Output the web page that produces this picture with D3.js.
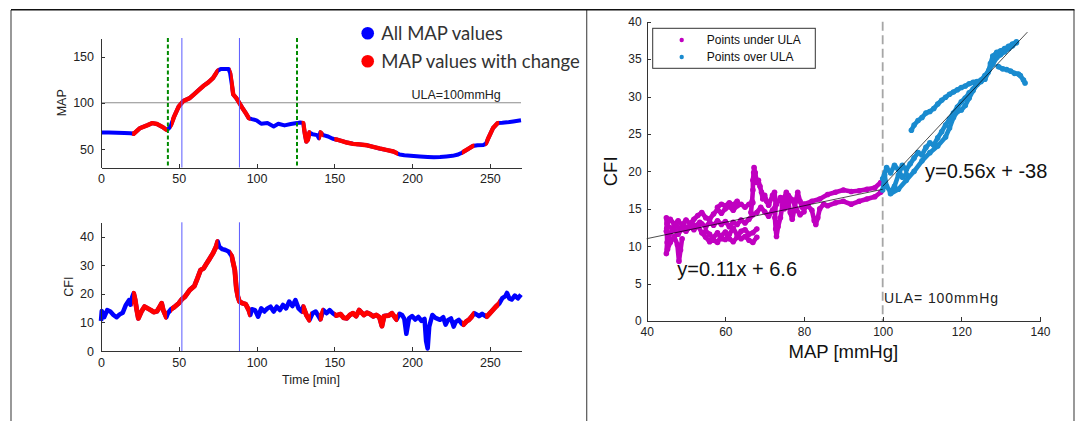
<!DOCTYPE html>
<html>
<head>
<meta charset="utf-8">
<script src="https://cdn.jsdelivr.net/npm/d3@7"></script>
<style>
  body { margin: 0; background: #fff; }
  svg { display: block; font-family: "Liberation Sans", Arial, sans-serif; }
  .axis path, .axis line { stroke: #333; shape-rendering: crispEdges; }
  .axis text { fill: #222; font-family: "Liberation Sans", Arial, sans-serif; }
</style>
</head>
<body>
<div id="chart"></div>
<script>
// ---- time series (left panels) ----
var mapTime = [0, 5, 10, 15, 19, 21, 25, 30, 33, 36, 40, 42, 43.5, 45, 47, 50, 53, 57, 60, 63, 66, 69, 72, 75, 77, 80, 82, 83, 84, 85, 87, 89, 91, 93, 95, 97, 100, 103, 107, 111, 114, 118, 122, 126, 128, 130, 131, 132, 133, 134, 136, 139, 140, 141, 143, 146, 149, 152, 155, 158, 162, 165, 168, 171, 175, 179, 184, 188, 192, 195, 199, 205, 210, 214, 218, 222, 226, 229, 232, 235, 239, 242, 246, 247.5, 249, 252, 255, 258, 261, 265, 270];
var mapValue = [67.8, 67.8, 67.6, 67.3, 67.0, 66.4, 72.5, 75.8, 78, 77, 73.3, 70.8, 72, 76, 85, 96, 102, 105, 109.4, 114, 118.4, 122, 126.7, 134.5, 136.5, 136.5, 136.5, 132, 121, 109, 105, 99.6, 94, 89, 83.4, 82.3, 81, 77.3, 78, 74.4, 77.3, 75.5, 77, 78, 78.7, 78, 67, 58, 60, 68, 66, 65, 61.7, 68, 65, 63.5, 61, 60, 58.5, 57, 55.6, 55.2, 54.6, 54, 52.3, 50.6, 48.8, 47.3, 44, 43.2, 42.6, 41.9, 41.4, 41.1, 41.3, 41.9, 42.6, 43.7, 46, 49, 53.2, 54, 54.4, 56, 61.7, 72.6, 78, 78.3, 78.8, 79.8, 81];

var cfiTime = [0, 0.5, 1, 2, 4, 6, 8, 10, 12, 14, 16, 18, 19, 20, 21, 22, 23, 24, 26, 28, 30, 32, 34, 36, 38, 39, 40, 42, 43, 45, 47, 50, 52, 54, 57, 60, 62, 64, 66, 68, 70, 72, 74, 75, 76, 78, 80, 82, 84, 86, 87, 88, 89, 91, 93, 95, 96, 97, 99, 101, 103, 105, 107, 109, 111, 113, 115, 117, 119, 121, 123, 125, 127, 129, 130, 132, 134, 136, 138, 140, 141, 143, 145, 147, 149, 151, 154, 156, 158, 160, 162, 164, 166, 169, 171, 173, 175, 177, 179, 180.6, 182, 185, 187, 190, 192, 193.5, 195, 196.3, 198, 200, 202, 204, 206, 208, 209, 210, 211, 213, 215, 218, 220, 221.5, 223, 225, 226.7, 228, 230, 232, 233, 235, 236.5, 238, 240, 242, 243, 245, 246, 248, 250, 252, 254, 256, 258, 260, 261, 262.5, 264, 266, 268, 270];
var cfiValue = [10.5, 14, 13.2, 11.8, 14.3, 13.8, 12.6, 11.8, 12.8, 13.4, 16.1, 17.8, 16.2, 18.8, 20.2, 17.8, 14.3, 11.4, 13.8, 15.5, 14.9, 14.3, 13.6, 13.9, 15.7, 16.7, 14.3, 11.8, 13.2, 14.6, 15.3, 16.7, 18.1, 19, 21.3, 22.7, 25.4, 28.3, 28.9, 30.7, 32.4, 34.2, 36.5, 38.3, 36.5, 35.6, 35.3, 34.8, 33.2, 28.3, 21.9, 19, 17.3, 16.7, 16.4, 14.3, 12.6, 14.6, 14.3, 12.0, 14.9, 13.8, 14.9, 15.5, 13.8, 15.5, 14.3, 16.1, 14.9, 17.3, 15.7, 17.8, 14.9, 13.8, 15.5, 12.6, 10.8, 13.2, 13.8, 12.0, 11.1, 14.3, 13.2, 14.3, 13.2, 12.4, 12.9, 11.6, 11.4, 12.6, 13.2, 12.2, 14.3, 12.6, 13.4, 12.9, 12.1, 12.6, 11.8, 8.7, 12.2, 12.4, 13.2, 11.0, 13.0, 12.6, 11.2, 6.0, 11.4, 12.2, 11.0, 11.9, 10.5, 11.2, 3.5, 0.9, 8.5, 12.6, 11.6, 10.9, 11.8, 9.2, 10.8, 11.4, 8.5, 10.2, 10.9, 9.5, 9.2, 10.4, 10.9, 11.8, 13.2, 12.6, 12.2, 13.0, 12.6, 12.0, 13.2, 14.4, 15.6, 16.6, 18.5, 19.2, 20.3, 18.4, 18.0, 19.4, 18.4, 19.7];

// time ranges [min] flagged as "MAP values with change"
var changeRanges = [[20, 42.5], [45, 75.5], [83, 96], [129, 135], [140, 143], [150, 191], [232, 240], [247, 256]];
var greenMarks = [43, 126];
var blueMarks = [52, 89];
var ula = 100;

// ---- scatter (right panel): CFI vs MAP, as traced point runs ----
var underULA = [
  [[45.2, 13.0], [46, 13.6], [47, 12.9], [48, 13.4], [49, 12.8], [50, 13.5], [51, 13.0], [52, 13.6], [53, 14.1], [54, 14.5], [55, 13.8], [56, 13.6], [57, 14.3], [58, 14.9], [59, 14.4], [60, 15.0], [61, 15.3], [62, 14.8], [63, 15.4], [64, 15.6], [65, 15.2], [66, 15.6], [67, 15.8]],
  [[45.0, 12.0], [45.5, 11.0], [46, 11.8], [47, 12.2], [48, 11.6], [49, 12.3], [50, 12.0], [51, 12.6], [52, 12.2], [53, 12.8], [54, 11.8], [55, 11.2], [56, 10.6], [57, 11.2], [58, 11.8], [59, 11.0], [60, 10.9], [61, 11.6], [62, 12.4], [63, 11.5], [64, 11.0], [65, 11.3], [66, 10.8], [67, 10.5], [68, 11.2]],
  [[45.0, 13.8], [45.1, 12.4], [45.2, 10.5], [45.0, 9.0], [45.3, 9.6], [46, 10.5], [47, 11.3], [47.8, 10.2], [48.2, 8.0], [48.6, 9.5], [49, 11.0]],
  [[45.5, 12.6], [46.5, 12.4], [47.5, 12.8], [48.5, 12.2], [49.5, 12.7], [50.5, 12.4], [51.5, 13.1], [52.5, 12.7], [53.5, 13.2]],
  [[54, 13.0], [55, 12.6], [56, 13.2], [57, 12.8], [58, 13.4], [59, 12.9], [60, 13.3], [61, 12.6], [62, 13.2], [63, 12.9], [64, 13.5], [65, 13.1], [66, 13.6], [67, 14.2]],
  [[55, 12.0], [56, 11.6], [57, 10.8], [58, 10.5], [59, 11.4], [60, 11.9], [61, 11.0], [62, 10.6], [63, 11.2], [64, 12.0], [65, 12.2], [66, 11.6], [67, 11.8], [68, 12.3]],
  [[58, 15.2], [59, 15.6], [60, 15.4], [61, 15.8], [62, 15.5], [63, 16.0]],
  [[66.5, 14.5], [66.8, 16.0], [67.0, 17.5], [67.0, 18.8], [67.2, 19.8], [67.3, 20.5], [67.6, 19.8], [68.0, 18.5], [68.4, 18.8], [68.8, 18.0], [69.2, 17.2], [69.5, 16.3], [70, 16.8], [70.5, 16.0], [71, 15.5]],
  [[71, 15.5], [72, 16.8], [72.5, 17.2], [72.8, 15.5], [72.6, 13.8], [72.8, 12.3], [73, 11.3], [73.4, 12.6], [74, 13.8], [74.5, 15.4], [75, 16.5], [75.5, 17.2], [76, 15.8], [76.5, 14.5], [77, 13.6], [77.5, 14.8], [78, 16.2], [78.4, 17.2], [79, 16.0], [79.5, 15.2], [80, 15.6]],
  [[68, 14.5], [69, 15.2], [70, 14.6], [71, 14.0], [72, 14.8], [73, 15.6], [74, 16.5], [75, 15.0], [76, 16.8], [77, 16.2], [78, 15.0], [79, 14.2], [80, 14.6]],
  [[80, 15.6], [82, 16.0], [84, 16.3], [86, 16.9], [88, 17.2], [90, 17.5], [92, 17.3], [94, 17.4], [96, 17.6], [98, 17.8], [99.5, 18.5]],
  [[80, 15.0], [81, 15.4], [82, 14.8], [82.6, 13.4], [83, 12.9], [83.5, 13.8], [84, 15.0], [85, 15.6], [86, 15.4], [88, 15.8], [90, 16.0], [92, 15.6], [94, 16.0], [96, 16.3], [98, 16.6], [99.5, 17.2]]
];
var overULA = [
  [[100, 17.5], [100.5, 19.5], [101, 18.0], [102, 17.2], [103, 18.0], [104, 19.5], [105, 20.8], [106, 20.2], [107, 21.0], [108, 21.8], [109, 22.5], [110, 22.2], [111, 23.2], [112, 23.8], [113, 23.5], [114, 24.5], [115, 25.3], [116, 26.2], [117, 27.0], [118, 27.8], [119, 28.6], [120, 29.3], [121, 29.8], [122, 30.5], [123, 31.0], [124, 31.8], [125, 32.2], [126, 32.8], [127, 33.5], [128, 34.3], [129, 35.2], [130, 35.6], [131, 36.0], [132, 36.4], [133, 36.8], [134, 37.2]],
  [[100, 19.0], [101, 20.5], [102, 19.8], [103, 20.8], [104, 20.2], [105, 19.2], [106, 19.6]],
  [[102, 17.0], [104, 17.6], [106, 18.8], [108, 20.0], [110, 21.4], [112, 22.5], [114, 23.4], [116, 24.6], [117, 25.8], [118, 27.2], [119, 28.0], [120, 28.2], [121, 28.8], [122, 29.8], [123, 30.8], [124, 31.6], [125, 32.0]],
  [[107.3, 25.5], [108, 26.2], [109, 26.8], [110, 27.2], [111, 27.8], [112, 28.0], [113, 28.4], [114, 29.0], [115, 29.5], [116, 29.9], [117, 30.3], [118, 30.6], [119, 30.9], [120, 31.2], [121, 31.4], [122, 31.7], [123, 31.9], [124, 32.0], [125, 32.1], [126, 32.3], [126.8, 33.2], [127.4, 34.4], [128, 35.4], [129, 35.9], [130, 36.1], [131, 36.4], [132, 36.7], [133, 37.0], [134, 37.3]],
  [[129.4, 34.0], [130.5, 33.7], [131.5, 33.6], [132.5, 33.4], [133.5, 33.1], [134.5, 33.0], [135, 32.8], [135.8, 32.2], [136.2, 31.8]]
];
var fits = [
  { slope: 0.11, icept: 6.6, from: 40, to: 100, label: "y=0.11x + 6.6" },
  { slope: 0.56, icept: -38, from: 100, to: 136.8, label: "y=0.56x + -38" }
];

var blue = "#0000ff", red = "#ff0000";
var magenta = "#c000c0", skyBlue = "#1a8bcf";

var svg = d3.select("#chart").append("svg").attr("width", 1078).attr("height", 421);

// panel frame
svg.append("path").attr("d", "M11,421V10M586.7,10V421M1074,10V421")
  .attr("stroke", "#555").attr("stroke-width", 1.2).attr("fill", "none");
svg.append("line").attr("x1", 11).attr("x2", 1074.5).attr("y1", 9.7).attr("y2", 9.7)
  .attr("stroke", "#111").attr("stroke-width", 1.6);

// ================= left panels =================
var x = d3.scaleLinear().domain([0, 270]).range([101, 521]);
var yMap = d3.scaleLinear().domain([30, 170]).range([167.5, 38]);
var yCfi = d3.scaleLinear().domain([0, 45]).range([351, 222.3]);

function drawAxes(yScale, yTicks, yRange) {
  svg.append("g").attr("class", "axis").attr("transform", "translate(0," + yRange[0] + ")")
    .call(d3.axisBottom(x).tickValues([0, 50, 100, 150, 200, 250]).tickSizeInner(-4).tickSizeOuter(0).tickPadding(7))
    .selectAll("text").style("font-size", "12.5px");
  svg.append("g").attr("class", "axis").attr("transform", "translate(" + x.range()[0] + ",0)")
    .call(d3.axisLeft(yScale).tickValues(yTicks).tickSizeInner(-4).tickSizeOuter(0).tickPadding(7))
    .selectAll("text").style("font-size", "12.5px");
}

// clip region = the "change" time ranges
var clip = svg.append("defs").append("clipPath").attr("id", "changeClip");
clip.selectAll("rect").data(changeRanges).enter().append("rect")
  .attr("x", function (d) { return x(d[0]); })
  .attr("width", function (d) { return x(d[1]) - x(d[0]); })
  .attr("y", 0).attr("height", 421);

function drawSeries(times, values, yScale, width) {
  var pts = times.map(function (t, i) { return [t, values[i]]; });
  var line = d3.line().x(function (d) { return x(d[0]); }).y(function (d) { return yScale(d[1]); });
  svg.append("path").datum(pts).attr("d", line).attr("fill", "none")
    .attr("stroke", blue).attr("stroke-width", width).attr("stroke-linejoin", "round");
  svg.append("path").datum(pts).attr("d", line).attr("fill", "none")
    .attr("stroke", red).attr("stroke-width", width + 0.4).attr("stroke-linejoin", "round")
    .attr("clip-path", "url(#changeClip)");
}

// --- MAP ---
svg.append("line").attr("x1", x(0)).attr("x2", x(270)).attr("y1", yMap(ula)).attr("y2", yMap(ula))
  .attr("stroke", "#8c8c8c").attr("stroke-width", 1.2);
drawSeries(mapTime, mapValue, yMap, 4);
svg.selectAll(".green").data(greenMarks).enter().append("line").attr("class", "green")
  .attr("x1", function (d) { return x(d); }).attr("x2", function (d) { return x(d); })
  .attr("y1", yMap.range()[1]).attr("y2", yMap.range()[0])
  .attr("stroke", "#008a00").attr("stroke-width", 2).attr("stroke-dasharray", "4,2.5");
svg.selectAll(".bmap").data(blueMarks).enter().append("line").attr("class", "bmap")
  .attr("x1", function (d) { return x(d); }).attr("x2", function (d) { return x(d); })
  .attr("y1", yMap.range()[1]).attr("y2", yMap.range()[0])
  .attr("stroke", "#5a5aff").attr("stroke-width", 1);
drawAxes(yMap, [50, 100, 150], yMap.range());
svg.append("text").attr("x", 411.5).attr("y", 98.5).attr("font-size", "12.5px").attr("fill", "#222")
  .text("ULA=100mmHg");
svg.append("text").attr("transform", "translate(65.5," + ((yMap.range()[0] + yMap.range()[1]) / 2) + ") rotate(-90)")
  .attr("text-anchor", "middle").attr("font-size", "12.5px").attr("fill", "#222").text("MAP");

// --- CFI ---
drawSeries(cfiTime, cfiValue, yCfi, 4.5);
svg.selectAll(".bcfi").data(blueMarks).enter().append("line").attr("class", "bcfi")
  .attr("x1", function (d) { return x(d); }).attr("x2", function (d) { return x(d); })
  .attr("y1", yCfi.range()[1]).attr("y2", yCfi.range()[0])
  .attr("stroke", "#5a5aff").attr("stroke-width", 1);
drawAxes(yCfi, [0, 10, 20, 30, 40], yCfi.range());
svg.append("text").attr("transform", "translate(72.5," + ((yCfi.range()[0] + yCfi.range()[1]) / 2) + ") rotate(-90)")
  .attr("text-anchor", "middle").attr("font-size", "12.5px").attr("fill", "#222").text("CFI");
svg.append("text").attr("x", (x.range()[0] + x.range()[1]) / 2).attr("y", 384)
  .attr("text-anchor", "middle").attr("font-size", "12.5px").attr("fill", "#222").text("Time [min]");

// legend (top)
var legendItems = [["All MAP values", blue], ["MAP values with change", red]];
var lg = svg.selectAll(".lg").data(legendItems).enter().append("g").attr("class", "lg")
  .attr("transform", function (d, i) { return "translate(367.7," + (33.3 + i * 28) + ")"; });
lg.append("circle").attr("r", 6.3).attr("fill", function (d) { return d[1]; });
lg.append("text").attr("x", 13.5).attr("y", 6.3).attr("font-family", "Lato, 'Open Sans', sans-serif")
  .attr("font-size", "18.5px").attr("fill", "#333").text(function (d) { return d[0]; });

// ================= right panel =================
var xR = d3.scaleLinear().domain([40, 140]).range([646.7, 1040]);
var yR = d3.scaleLinear().domain([0, 40]).range([321, 21.7]);

svg.append("line").attr("x1", xR(ula)).attr("x2", xR(ula)).attr("y1", yR(40)).attr("y2", yR(0))
  .attr("stroke", "#a6a6a6").attr("stroke-width", 1.8).attr("stroke-dasharray", "9,4.5");

var pathR = d3.line().x(function (d) { return xR(d[0]); }).y(function (d) { return yR(d[1]); });
function drawRuns(runs, color) {
  var g = svg.append("g");
  g.selectAll("path").data(runs).enter().append("path").attr("d", pathR)
    .attr("fill", "none").attr("stroke", color).attr("stroke-width", 4.6)
    .attr("stroke-linejoin", "round").attr("stroke-linecap", "round");
  g.selectAll("circle").data(d3.merge(runs)).enter().append("circle")
    .attr("cx", function (d) { return xR(d[0]); }).attr("cy", function (d) { return yR(d[1]); })
    .attr("r", 2.8).attr("fill", color);
}
drawRuns(underULA, magenta);
drawRuns(overULA, skyBlue);

svg.selectAll(".fit").data(fits).enter().append("line").attr("class", "fit")
  .attr("x1", function (d) { return xR(d.from); }).attr("y1", function (d) { return yR(d.slope * d.from + d.icept); })
  .attr("x2", function (d) { return xR(d.to); }).attr("y2", function (d) { return yR(d.slope * d.to + d.icept); })
  .attr("stroke", "#000").attr("stroke-width", 0.7);

svg.append("g").attr("class", "axis").attr("transform", "translate(0," + yR(0) + ")")
  .call(d3.axisBottom(xR).tickValues([40, 60, 80, 100, 120, 140]).tickSizeInner(-4).tickSizeOuter(0).tickPadding(6.5))
  .selectAll("text").style("font-size", "12px");
svg.append("g").attr("class", "axis").attr("transform", "translate(" + xR(40) + ",0)")
  .call(d3.axisLeft(yR).tickValues(d3.range(0, 41, 5)).tickSizeInner(-4).tickSizeOuter(0).tickPadding(5))
  .selectAll("text").style("font-size", "12px");

svg.append("text").attr("x", (xR.range()[0] + xR.range()[1]) / 2).attr("y", 358.3)
  .attr("text-anchor", "middle").attr("font-size", "18.5px").attr("fill", "#111").text("MAP [mmHg]");
svg.append("text").attr("transform", "translate(616.5," + ((yR.range()[0] + yR.range()[1]) / 2) + ") rotate(-90)")
  .attr("text-anchor", "middle").attr("font-size", "18.5px").attr("fill", "#111").text("CFI");

svg.append("text").attr("x", 677.3).attr("y", 276).attr("font-size", "20px").attr("fill", "#111").text(fits[0].label);
svg.append("text").attr("x", 925).attr("y", 178.3).attr("font-size", "20px").attr("fill", "#111").text(fits[1].label);
svg.append("text").attr("x", 884).attr("y", 303).attr("font-size", "14px").attr("fill", "#222")
  .attr("textLength", 114).attr("lengthAdjust", "spacing").text("ULA= 100mmHg");

// scatter legend box
var rLegend = [["Points under ULA", magenta], ["Points over ULA", skyBlue]];
svg.append("rect").attr("x", 652.7).attr("y", 28.3).attr("width", 162.6).attr("height", 40)
  .attr("fill", "#fff").attr("stroke", "#333").attr("stroke-width", 1);
var rl = svg.selectAll(".rl").data(rLegend).enter().append("g").attr("class", "rl")
  .attr("transform", function (d, i) { return "translate(681.7," + (40 + i * 17) + ")"; });
rl.append("circle").attr("r", 2.2).attr("fill", function (d) { return d[1]; });
rl.append("text").attr("x", 25).attr("y", 4.3).attr("font-size", "12px").attr("fill", "#111")
  .text(function (d) { return d[0]; });
</script>
</body>
</html>
